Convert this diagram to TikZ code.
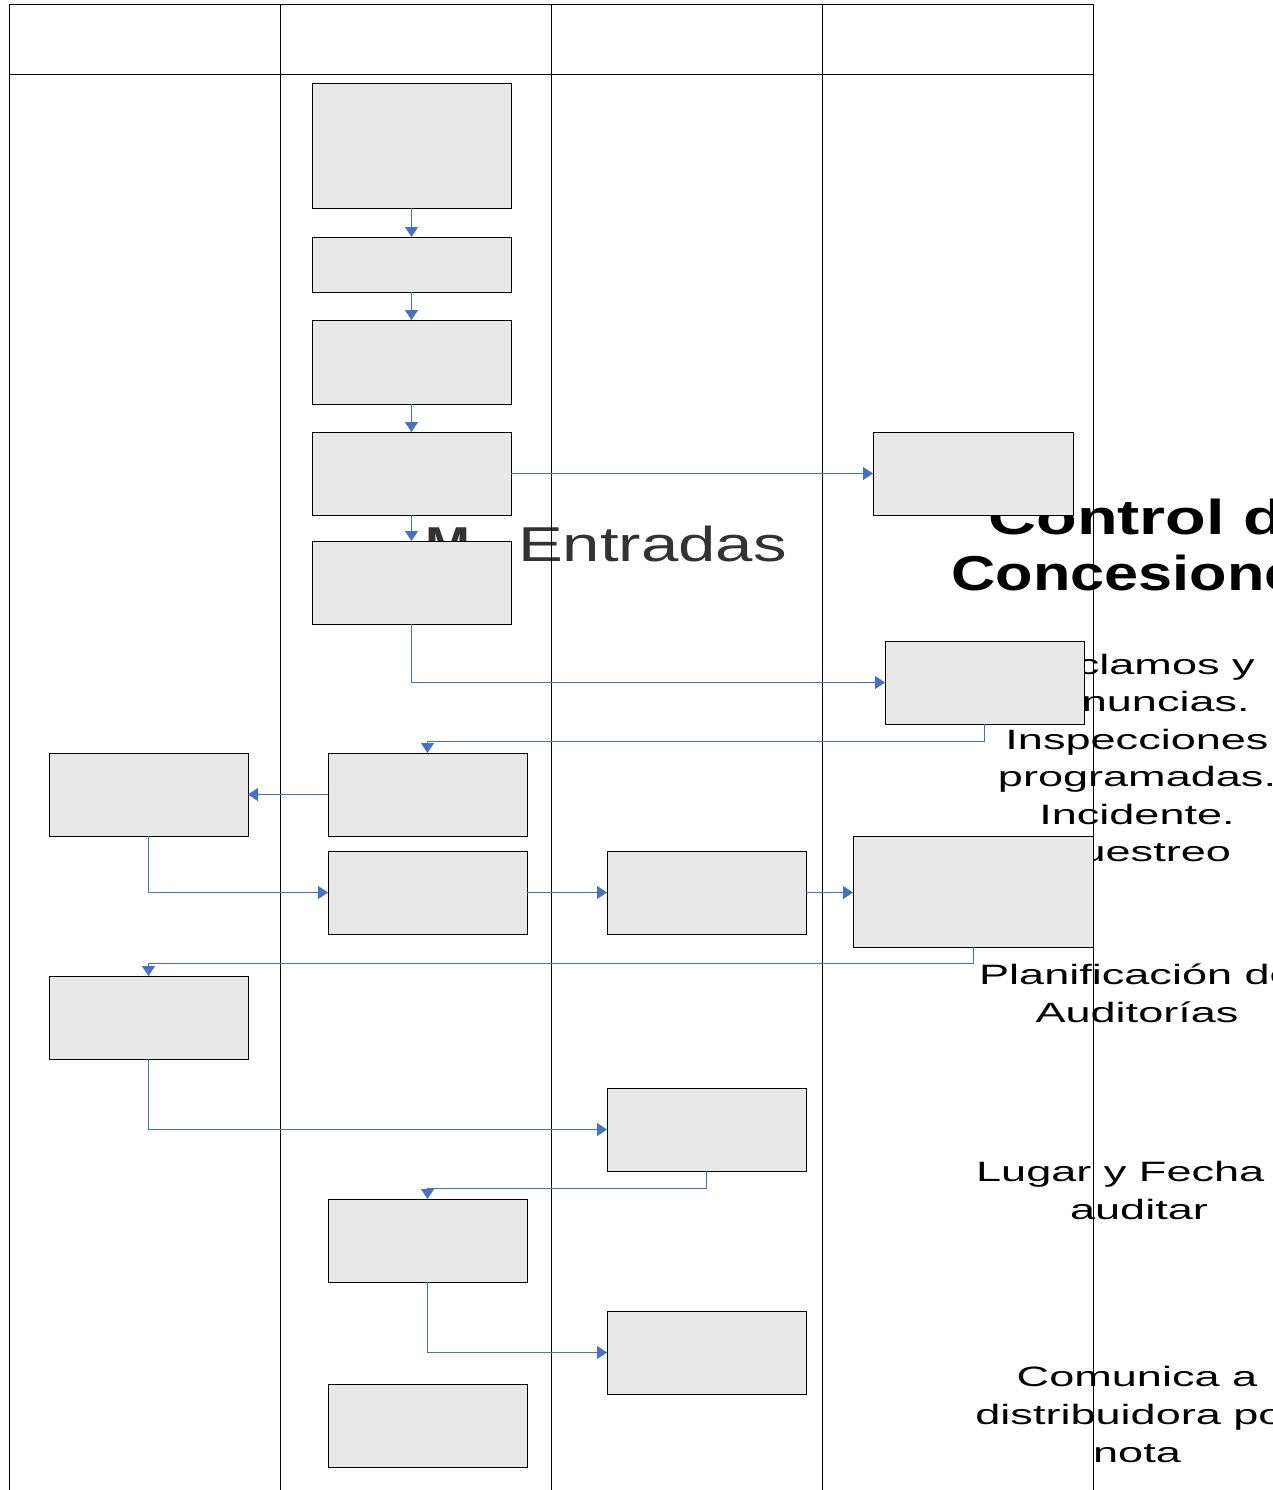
\documentclass[tikz,border=0pt]{standalone}
\usepackage{fontspec}
\setmainfont{Liberation Sans}
\usetikzlibrary{arrows.meta}
\definecolor{boxfill}{HTML}{E8E8E8}
\definecolor{flow}{HTML}{4472C4}
\definecolor{darktxt}{HTML}{333333}
\newcommand\bx[5]{\node[box,minimum width={#4-#2},minimum height={#5-#3}] (#1) at ({(#2+#4)/2},{(#3+#5)/2}) {};}
\begin{document}
\begin{tikzpicture}[x=1pt,y=-1pt,
  box/.style={draw=black,fill=boxfill,line width=0.8pt,inner sep=0pt,outer sep=0pt},
  lane/.style={draw=black,line width=0.9pt},
  flowline/.style={draw=flow,line width=0.8pt,-{Triangle[length=10pt,width=13pt]}},
  sidetxt/.style={inner sep=0pt,anchor=base,text=black}]
\useasboundingbox (0,0) rectangle (1273,1490);
\clip (0,0) rectangle (1273,1490);
% background texts (partly hidden)
\node[sidetxt,anchor=base west] (tTitleA) at (988,534) {\scalebox{1.36}[1]{\fontsize{49}{56}\selectfont\bfseries Control de}};
\node[sidetxt] (tTitleB) at (1142,590) {\scalebox{1.25}[1]{\fontsize{49}{56}\selectfont\bfseries Concesiones}};
\node[sidetxt,text=darktxt,anchor=base west] (tEnt) at (518,561) {\scalebox{1.37}[1]{\fontsize{49}{56}\selectfont Entradas}};
\node[sidetxt,text=darktxt] (tM) at (448,561) {\scalebox{1.1}[1]{\fontsize{49}{56}\selectfont\bfseries M}};
\node[sidetxt] (tIn) at (1137,674) {\scalebox{1.61}[1]{\fontsize{28}{37.5}\selectfont\begin{tabular}[t]{@{}c@{}}Reclamos y\\Denuncias.\\Inspecciones\\programadas.\\Incidente.\\Muestreo\end{tabular}}};
\node[sidetxt] (tPl) at (1137,984) {\scalebox{1.61}[1]{\fontsize{28}{38}\selectfont\begin{tabular}[t]{@{}c@{}}Planificación de\\Auditorías\end{tabular}}};
\node[sidetxt] (tLu) at (1139,1181) {\scalebox{1.61}[1]{\fontsize{28}{38}\selectfont\begin{tabular}[t]{@{}c@{}}Lugar y Fecha a\\auditar\end{tabular}}};
\node[sidetxt] (tCo) at (1137,1386) {\scalebox{1.61}[1]{\fontsize{28}{38}\selectfont\begin{tabular}[t]{@{}c@{}}Comunica a\\distribuidora por\\nota\end{tabular}}};
% swimlanes
\draw[lane] (9,1491) -- (9,4) -- (1093,4) -- (1093,1491);
\draw[lane] (9,74) -- (1093,74);
\draw[lane] (280,4) -- (280,1491);
\draw[lane] (551,4) -- (551,1491);
\draw[lane] (822,4) -- (822,1491);
% boxes
\bx{b1}{312}{83}{511}{208}
\bx{b2}{312}{237}{511}{292}
\bx{b3}{312}{320}{511}{404}
\bx{b4}{312}{432}{511}{515}
\bx{b5}{312}{541}{511}{624}
\bx{b6}{873}{432}{1073}{515}
\bx{b7}{885}{641}{1084}{724}
\bx{b8}{328}{753}{527}{836}
\bx{b9}{49}{753}{248}{836}
\bx{b10}{328}{851}{527}{934}
\bx{b11}{607}{851}{806}{934}
\bx{b12}{853}{836}{1093}{947}
\bx{b13}{49}{976}{248}{1059}
\bx{b14}{607}{1088}{806}{1171}
\bx{b15}{328}{1199}{527}{1282}
\bx{b16}{607}{1311}{806}{1394}
\bx{b17}{328}{1384}{527}{1467}
% connectors
\draw[flowline] (b1.south) -- (b2.north);
\draw[flowline] (b2.south) -- (b3.north);
\draw[flowline] (b3.south) -- (b4.north);
\draw[flowline] (b4.south) -- (b5.north);
\draw[flowline] (b4.east) -- (b6.west);
\draw[flowline] (b5.south) |- (b7.west);
\draw[flowline] (b7.south) -- ++(0,17) -| (b8.north);
\draw[flowline] (b8.west) -- (b9.east);
\draw[flowline] (b9.south) |- (b10.west);
\draw[flowline] (b10.east) -- (b11.west);
\draw[flowline] (b11.east) -- (b12.west |- b11.east);
\draw[flowline] (b12.south) -- ++(0,16) -| (b13.north);
\draw[flowline] (b13.south) |- (b14.west);
\draw[flowline] (b14.south) -- ++(0,17) -| (b15.north);
\draw[flowline] (b15.south) |- (b16.west);
\end{tikzpicture}
\end{document}
